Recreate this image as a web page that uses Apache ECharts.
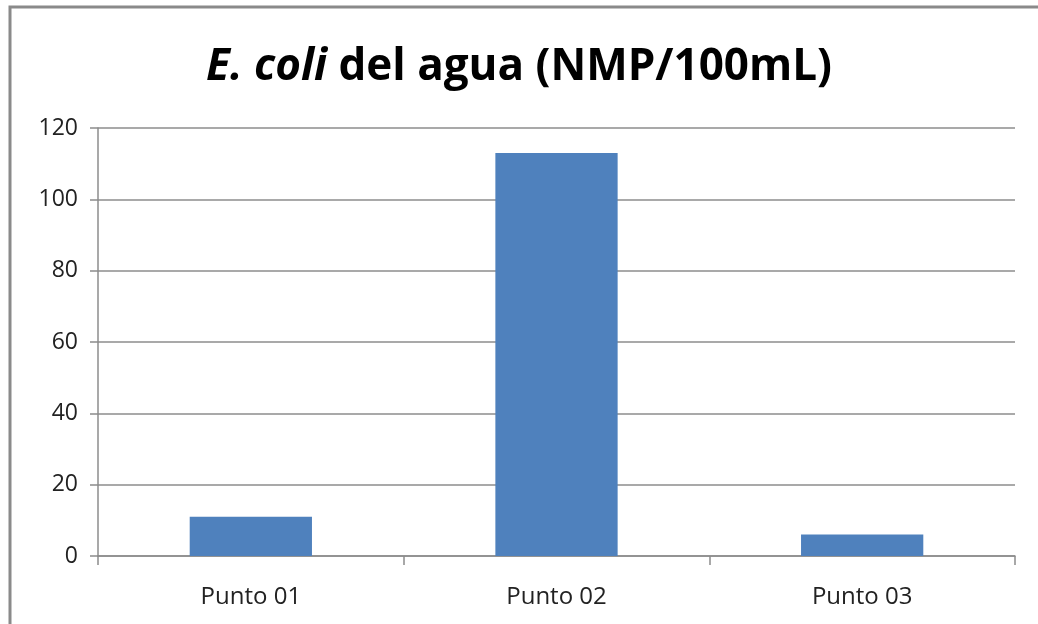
<!DOCTYPE html>
<html>
<head>
<meta charset="utf-8">
<title>E. coli del agua</title>
<script src="https://cdn.jsdelivr.net/npm/echarts@6/dist/echarts.min.js"></script>
<style>
	* { margin: 0; padding: 0 }
	html, body { width: 100%; height: 100%; background: #fff; }
	#main { width: 1038px; height: 624px; }
</style>
</head>
<body>
<div id="main"></div>
<script>
	var categories = ['Punto 01', 'Punto 02', 'Punto 03'];
	var values = [11, 113, 6];

	var chart = echarts.init(document.getElementById('main'));
	var font = '"Open Sans", "Liberation Sans", sans-serif';

	chart.setOption({
		animation: false,
		title: {
			text: '{i|E. coli} del agua (NMP/100mL)',
			left: 'center',
			top: 40,
			textStyle: {
				fontFamily: font,
				fontSize: 44,
				fontWeight: 'bold',
				color: '#000',
				rich: {
					i: { fontFamily: font, fontSize: 44, fontWeight: 'bold', fontStyle: 'italic', color: '#000' }
				}
			}
		},
		graphic: [{
			type: 'rect',
			shape: { x: 10, y: 7, width: 1100, height: 700 },
			style: { fill: 'none', stroke: '#8a8a8a', lineWidth: 3 },
			silent: true
		}],
		grid: { left: 98, top: 128, right: 23, bottom: 68 },
		xAxis: {
			type: 'category',
			data: categories,
			axisLine: { lineStyle: { color: '#8c8c8c', width: 1.5 } },
			axisTick: { show: true, length: 9, lineStyle: { color: '#8c8c8c', width: 1.5 } },
			axisLabel: { color: '#222', fontFamily: font, fontSize: 24, margin: 29 }
		},
		yAxis: {
			type: 'value',
			min: 0,
			max: 120,
			interval: 20,
			axisLine: { show: true, lineStyle: { color: '#8c8c8c', width: 1.5 } },
			axisTick: { show: true, length: 8, lineStyle: { color: '#8c8c8c', width: 1.5 } },
			axisLabel: { color: '#222', fontFamily: font, fontSize: 23, margin: 20 },
			splitLine: { lineStyle: { color: '#8c8c8c', width: 1.5 } }
		},
		series: [{
			type: 'bar',
			data: values,
			barWidth: '40%',
			itemStyle: { color: '#4f81bd' }
		}]
	});
</script>
</body>
</html>
